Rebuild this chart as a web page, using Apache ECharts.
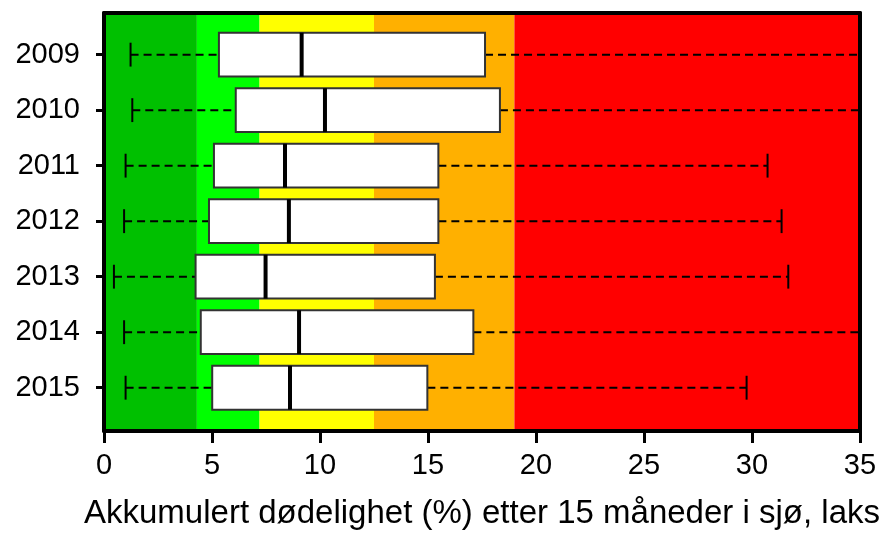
<!DOCTYPE html>
<html>
<head>
<meta charset="utf-8">
<script src="https://cdn.jsdelivr.net/npm/echarts@6/dist/echarts.min.js"></script>
<style>html,body{margin:0;padding:0;background:#fff}#c{width:883px;height:535px}</style>
</head>
<body>
<div id="c"></div>
<script>
// Data
const years = [2009, 2010, 2011, 2012, 2013, 2014, 2015];
const whiskerLow = [1.23, 1.31, 1.0, 0.93, 0.46, 0.93, 1.0];
const q1 = [5.32, 6.1, 5.09, 4.86, 4.24, 4.48, 5.01];
const median = [9.15, 10.23, 8.38, 8.56, 7.48, 9.03, 8.61];
const q3 = [17.64, 18.33, 15.48, 15.48, 15.32, 17.1, 14.97];
const whiskerHigh = [40, 40, 30.72, 31.37, 31.68, 40, 29.75];
const bandEdges = [0, 4.3, 7.2, 12.5, 19, 35];
const bandColors = ['#00c000', '#00ff00', '#ffff00', '#ffb000', '#ff0000'];
const xTicks = [0, 5, 10, 15, 20, 25, 30, 35];
const xTitle = 'Akkumulert dødelighet (%) etter 15 måneder i sjø, laks';

const yMin = 2008.25, yMax = 2015.78;
const boxData = years.map((y, i) => [y, whiskerLow[i], q1[i], median[i], q3[i], whiskerHigh[i]]);
const bandData = bandEdges.slice(0, -1).map((e, i) => [e, bandEdges[i + 1]]);
const FONT = 'Liberation Sans, Arial, sans-serif';

const chart = echarts.init(document.getElementById('c'), null, {renderer: 'canvas'});
chart.setOption({
  animation: false,
  backgroundColor: '#fff',
  grid: {left: 104, right: 23, top: 13, bottom: 99, containLabel: false},
  xAxis: [{
    type: 'value', min: 0, max: 35, interval: 5, position: 'bottom', z: 10,
    axisLine: {show: true, lineStyle: {color: '#000', width: 4}},
    axisTick: {show: true, inside: false, length: 12, lineStyle: {color: '#000', width: 3}},
    axisLabel: {color: '#000', fontSize: 29, fontFamily: FONT, margin: 20,
      customValues: xTicks},
    splitLine: {show: false},
    name: xTitle, nameLocation: 'middle', nameGap: 66,
    nameTextStyle: {color: '#000', fontSize: 33, fontFamily: FONT}
  }, {
    type: 'value', min: 0, max: 35, position: 'top', z: 10,
    axisLine: {show: true, onZero: false, lineStyle: {color: '#000', width: 4}},
    axisTick: {show: false}, axisLabel: {show: false}, splitLine: {show: false}
  }],
  yAxis: [{
    type: 'value', min: yMin, max: yMax, inverse: true, position: 'left', z: 10,
    axisLine: {show: true, onZero: false, lineStyle: {color: '#000', width: 4}},
    axisTick: {show: true, length: 8, lineStyle: {color: '#000', width: 3}, customValues: years},
    axisLabel: {color: '#000', fontSize: 29, fontFamily: FONT, margin: 24, customValues: years,
      formatter: v => String(Math.round(v))},
    splitLine: {show: false}
  }, {
    type: 'value', min: yMin, max: yMax, inverse: true, position: 'right', z: 10,
    axisLine: {show: true, onZero: false, lineStyle: {color: '#000', width: 4}},
    axisTick: {show: false}, axisLabel: {show: false}, splitLine: {show: false}
  }],
  series: [{
    type: 'custom', name: 'bands', xAxisIndex: 0, yAxisIndex: 0, z: 1, silent: true,
    data: bandData,
    encode: {x: [0, 1]},
    renderItem: (params, api) => {
      const p0 = api.coord([api.value(0), yMin]);
      const p1 = api.coord([api.value(1), yMax]);
      return {
        type: 'rect',
        shape: {x: p0[0], y: Math.min(p0[1], p1[1]), width: p1[0] - p0[0], height: Math.abs(p1[1] - p0[1])},
        style: {fill: bandColors[params.dataIndex]}
      };
    }
  }, {
    type: 'custom', name: 'box', xAxisIndex: 0, yAxisIndex: 0, z: 3, clip: true, silent: true,
    data: boxData,
    encode: {x: [1, 2, 3, 4, 5], y: 0},
    renderItem: (params, api) => {
      const y = api.value(0);
      const pMin = api.coord([api.value(1), y]);
      const pQ1 = api.coord([api.value(2), y]);
      const pMd = api.coord([api.value(3), y]);
      const pQ3 = api.coord([api.value(4), y]);
      const pMax = api.coord([api.value(5), y]);
      const bh = api.size([0, 0.79])[1];
      const ch = api.size([0, 0.43])[1];
      const cy = pMd[1];
      const dash = {stroke: '#000', lineWidth: 2, lineDash: [8, 5]};
      const solid = {stroke: '#000', lineWidth: 2};
      return {
        type: 'group',
        children: [
          {type: 'line', shape: {x1: pMin[0], y1: cy, x2: pQ1[0], y2: cy}, style: dash},
          {type: 'line', shape: {x1: pQ3[0], y1: cy, x2: pMax[0], y2: cy}, style: dash},
          {type: 'line', shape: {x1: pMin[0], y1: cy - ch / 2, x2: pMin[0], y2: cy + ch / 2}, style: solid},
          {type: 'line', shape: {x1: pMax[0], y1: cy - ch / 2, x2: pMax[0], y2: cy + ch / 2}, style: solid},
          {type: 'rect', shape: {x: pQ1[0], y: cy - bh / 2, width: pQ3[0] - pQ1[0], height: bh},
            style: {fill: '#fff', stroke: '#333', lineWidth: 2}},
          {type: 'line', shape: {x1: pMd[0], y1: cy - bh / 2, x2: pMd[0], y2: cy + bh / 2},
            style: {stroke: '#000', lineWidth: 4}}
        ]
      };
    }
  }]
});
</script>
</body>
</html>
